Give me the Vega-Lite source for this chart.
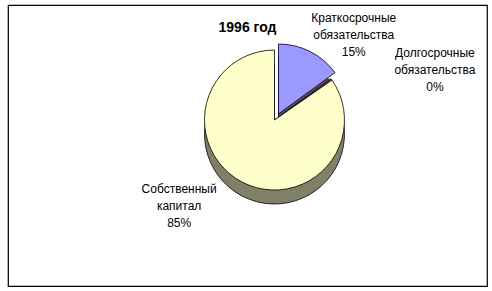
{
  "$schema": "https://vega.github.io/schema/vega-lite/v6.json",
  "autosize": {"type": "fit", "contains": "padding"},
  "width": 492,
  "height": 291,
  "padding": 5,
  "background": "white",
  "title": {"text": "1996 год", "anchor": "middle", "offset": -30, "font": "Liberation Sans", "fontSize": 14, "fontWeight": "bold", "color": "black"},
  "config": {"view": {"stroke": "black", "strokeWidth": 1.2}},
  "data": {"values": [
    {"cat": "Краткосрочные обязательства", "value": 15, "order": 1, "label": "Краткосрочные\nобязательства\n15%"},
    {"cat": "Долгосрочные обязательства", "value": 0.4, "order": 2, "label": "Долгосрочные\nобязательства\n0%"},
    {"cat": "Собственный капитал", "value": 85, "order": 3, "label": "Собственный\nкапитал\n85%"}
  ]},
  "transform": [
    {"stack": "value", "groupby": [], "sort": [{"field": "order", "order": "ascending"}], "as": ["t0", "t1"]},
    {"calculate": "(datum.t0 + datum.t1) / 2", "as": "tmid"}
  ],
  "layer": [
    {
      "mark": {"type": "point", "opacity": 0},
      "encoding": {
        "x": {"field": "t0", "type": "quantitative", "axis": null},
        "y": {"field": "t1", "type": "quantitative", "axis": null}
      }
    },
    {
      "transform": [{"filter": "datum.order === 1"}],
      "mark": {"type": "arc", "radius": 70, "xOffset": 31, "yOffset": -17.5, "stroke": "black", "strokeWidth": 0.8},
      "encoding": {
        "theta": {"field": "t0", "type": "quantitative", "scale": {"domain": [0, 100.4]}},
        "theta2": {"field": "t1"},
        "fill": {"value": "#4c4c80"}
      }
    },
    {
      "transform": [{"filter": "datum.order === 1"}],
      "mark": {"type": "arc", "radius": 70, "xOffset": 31, "yOffset": -31.5, "stroke": "black", "strokeWidth": 0.8},
      "encoding": {
        "theta": {"field": "t0", "type": "quantitative", "scale": {"domain": [0, 100.4]}},
        "theta2": {"field": "t1"},
        "fill": {"value": "#9999ff"}
      }
    },
    {
      "transform": [{"filter": "datum.order !== 1"}],
      "mark": {"type": "arc", "radius": 70, "xOffset": 27, "yOffset": -11.5, "stroke": "black", "strokeWidth": 0.8},
      "encoding": {
        "theta": {"field": "t0", "type": "quantitative", "scale": {"domain": [0, 100.4]}},
        "theta2": {"field": "t1"},
        "fill": {"condition": {"test": "datum.order === 2", "value": "#4c1a33"}, "value": "#808066"}
      }
    },
    {
      "transform": [{"filter": "datum.order !== 1"}],
      "mark": {"type": "arc", "radius": 70, "xOffset": 27, "yOffset": -25.5, "stroke": "black", "strokeWidth": 0.8},
      "encoding": {
        "theta": {"field": "t0", "type": "quantitative", "scale": {"domain": [0, 100.4]}},
        "theta2": {"field": "t1"},
        "fill": {"condition": {"test": "datum.order === 2", "value": "#993366"}, "value": "#ffffcc"}
      }
    },
    {
      "transform": [{"filter": "datum.order === 1"}],
      "mark": {"type": "text", "radius": 100, "xOffset": 27, "yOffset": -25.5, "dx": 34, "dy": -13, "font": "Liberation Sans", "fontSize": 12, "lineHeight": 17, "lineBreak": "\n", "align": "center", "baseline": "middle", "color": "black"},
      "encoding": {
        "theta": {"field": "tmid", "type": "quantitative", "scale": {"domain": [0, 100.4]}},
        "text": {"field": "label"}
      }
    },
    {
      "transform": [{"filter": "datum.order === 2"}],
      "mark": {"type": "text", "radius": 100, "xOffset": 27, "yOffset": -25.5, "dx": 79, "dy": -9, "font": "Liberation Sans", "fontSize": 12, "lineHeight": 17, "lineBreak": "\n", "align": "center", "baseline": "middle", "color": "black"},
      "encoding": {
        "theta": {"field": "tmid", "type": "quantitative", "scale": {"domain": [0, 100.4]}},
        "text": {"field": "label"}
      }
    },
    {
      "transform": [{"filter": "datum.order === 3"}],
      "mark": {"type": "text", "radius": 100, "xOffset": 27, "yOffset": -25.5, "dx": -49, "dy": -20, "font": "Liberation Sans", "fontSize": 12, "lineHeight": 17, "lineBreak": "\n", "align": "center", "baseline": "middle", "color": "black"},
      "encoding": {
        "theta": {"field": "tmid", "type": "quantitative", "scale": {"domain": [0, 100.4]}},
        "text": {"field": "label"}
      }
    }
  ]
}
